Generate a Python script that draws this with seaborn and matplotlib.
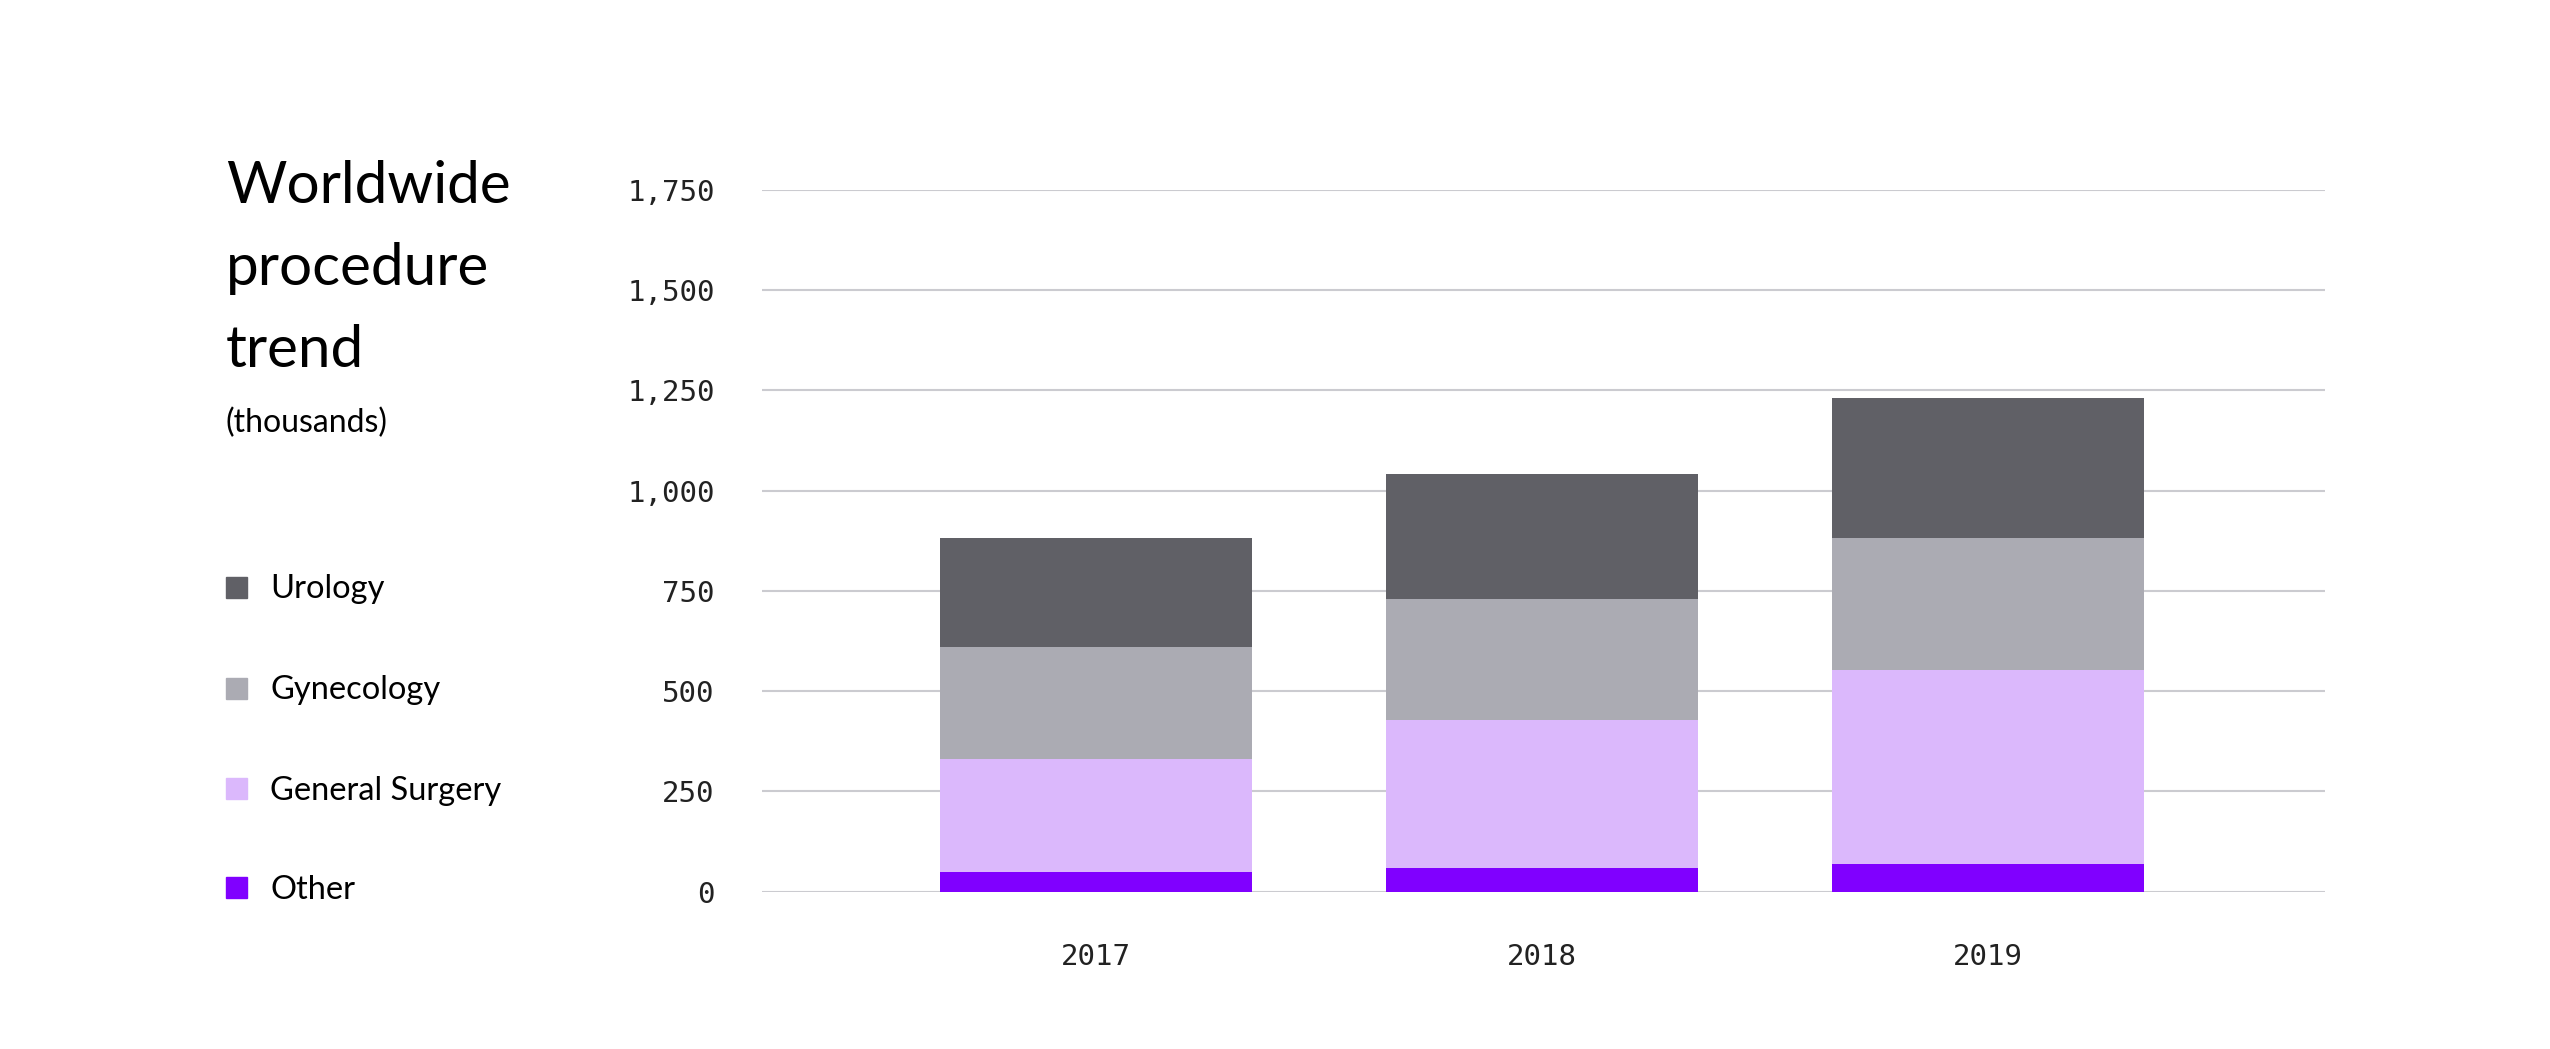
import numpy as np
import pandas as pd
import matplotlib.pyplot as plt
import seaborn as sns
from matplotlib.patches import Rectangle

# values (thousands)
years = ["2017", "2018", "2019"]
other = [50, 58, 70]
general_surgery = [282, 371, 482]
gynecology = [278, 300, 329]
urology = [271, 313, 351]

segments = ["Other", "General Surgery", "Gynecology", "Urology"]
legend_order = ["Urology", "Gynecology", "General Surgery", "Other"]
colors = {"Urology": "#606066", "Gynecology": "#ababb3",
          "General Surgery": "#dbb8fc", "Other": "#8000ff"}
yticks = [0, 250, 500, 750, 1000, 1250, 1500, 1750]

df = pd.DataFrame({"Year": years, "Other": other, "General Surgery": general_surgery,
                   "Gynecology": gynecology, "Urology": urology})
stack = df[segments].cumsum(axis=1)

sns.set_theme(style="white")
plt.rcParams["font.family"] = ["Lato", "DejaVu Sans"]

fig = plt.figure(figsize=(25.5, 10.49), dpi=100)
ax = fig.add_axes([0.2988, 0.15, 0.6129, 0.6689])

# stacked bars: draw cumulative totals from the top segment down
for seg in reversed(segments):
    sns.barplot(x=df["Year"], y=stack[seg], color=colors[seg], saturation=1,
                width=0.7, errorbar=None, linewidth=0, ax=ax, zorder=3)

ax.set_xlim(-0.75, 2.755)
ax.set_ylim(0, 1750)
ax.set_yticks(yticks)
ax.set_yticklabels([f"{v:,}" for v in yticks])
ax.yaxis.grid(True, color="#cbcbd0", linewidth=1.5)
ax.xaxis.grid(False)
ax.set_axisbelow(True)
sns.despine(ax=ax, left=True, bottom=True)
ax.set_xlabel("")
ax.set_ylabel("")
ax.tick_params(axis="y", length=0, pad=34, labelsize=21)
ax.tick_params(axis="x", length=0, pad=37, labelsize=21)
for lab in ax.get_yticklabels() + ax.get_xticklabels():
    lab.set_fontfamily("DejaVu Sans Mono")
    lab.set_color("#222222")

# title block
fig.text(0.0886, 0.8065, "Worldwide", fontsize=42, color="black", va="baseline")
fig.text(0.0886, 0.7283, "procedure", fontsize=42, color="black", va="baseline")
fig.text(0.0886, 0.6501, "trend", fontsize=42, color="black", va="baseline")
fig.text(0.0886, 0.5882, "(thousands)", fontsize=23, color="black", va="baseline")

# legend
row_y = [0.4404, 0.3441, 0.2479, 0.1535]
for name, y in zip(legend_order, row_y):
    fig.add_artist(Rectangle((0.0886, y - 0.01), 0.00824, 0.02,
                             transform=fig.transFigure, color=colors[name]))
    fig.text(0.1059, y - 0.002, name, fontsize=23.5, color="black", va="center")

fig.savefig("out.png", dpi=100)
